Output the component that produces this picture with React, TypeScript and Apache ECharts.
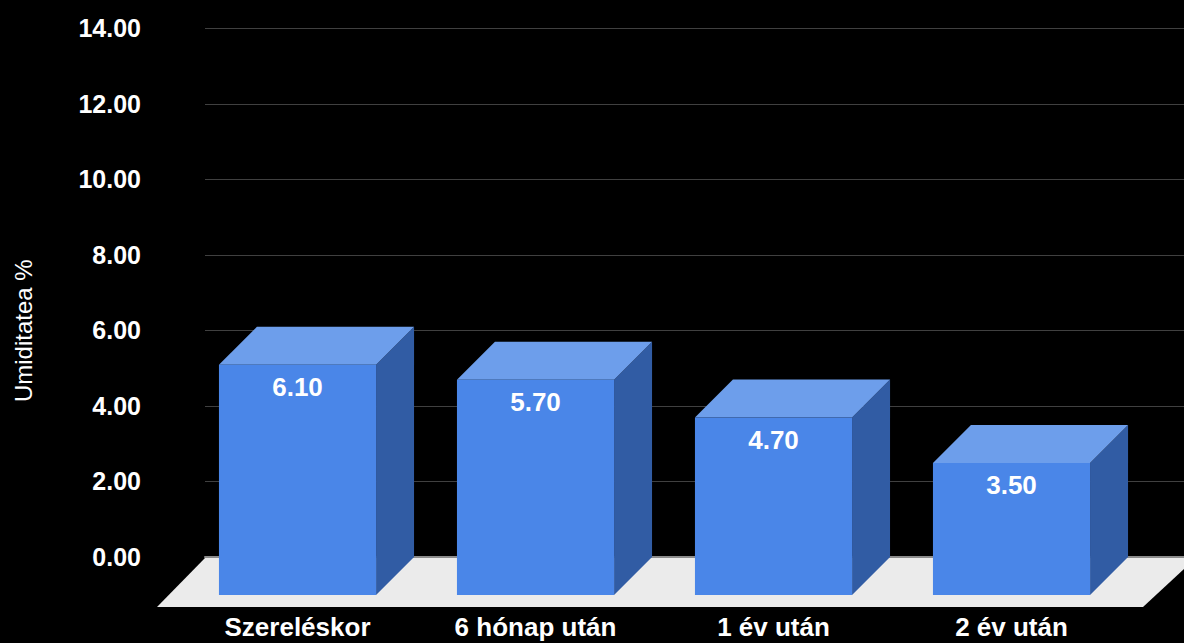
import React, { useEffect, useRef } from "react";
import * as echarts from "echarts";

const categories = ["Szereléskor", "6 hónap után", "1 év után", "2 év után"];
const values = [6.1, 5.7, 4.7, 3.5];
const yMin = 0;
const yMax = 14;
const yInterval = 2;
const yTitle = "Umiditatea %";

const FONT = "'Liberation Sans', Arial, Helvetica, sans-serif";

export default function App() {
  const ref = useRef<HTMLDivElement>(null);
  useEffect(() => {
    if (!ref.current) return;
    const chart = echarts.init(ref.current, null, { renderer: "svg" });
    const depthX = 38;
    const depthY = -38;
    chart.setOption({
      animation: false,
      backgroundColor: "#000000",
      grid: [
        { left: 205, right: 0, top: 28.3, height: 528.5 },
        { left: 178.5, width: 952, top: 66.5, height: 528.5 },
      ],
      graphic: [
        {
          type: "polygon",
          z: 1,
          shape: {
            points: [
              [205, 558],
              [1196, 558],
              [1143, 607],
              [157, 607],
            ],
          },
          style: { fill: "#ebebeb" },
        },
      ],
      xAxis: [
        {
          gridIndex: 0,
          type: "category",
          data: categories,
          axisLine: { show: true, lineStyle: { color: "#8c8c8c", width: 2 } },
          axisTick: { show: false },
          axisLabel: { show: false },
        },
        {
          gridIndex: 1,
          type: "category",
          data: categories,
          axisLine: { show: false },
          axisTick: { show: false },
          axisLabel: {
            color: "#ffffff",
            fontWeight: "bold",
            fontSize: 26,
            fontFamily: FONT,
            margin: 19,
          },
        },
      ],
      yAxis: [
        {
          gridIndex: 0,
          type: "value",
          min: yMin,
          max: yMax,
          interval: yInterval,
          axisLine: { show: false },
          axisTick: { show: false },
          axisLabel: {
            formatter: (v: number) => v.toFixed(2),
            color: "#ffffff",
            fontWeight: "bold",
            fontSize: 25,
            fontFamily: FONT,
            margin: 64,
          },
          splitLine: { lineStyle: { color: "#404040", width: 1 } },
        },
        {
          gridIndex: 1,
          type: "value",
          min: yMin,
          max: yMax,
          interval: yInterval,
          axisLine: { show: false },
          axisTick: { show: false },
          axisLabel: { show: false },
          splitLine: { show: false },
          name: yTitle,
          nameLocation: "middle",
          nameGap: 143,
          nameTextStyle: { color: "#ffffff", fontSize: 24, fontFamily: FONT },
        },
      ],
      series: [
        {
          type: "custom",
          xAxisIndex: 1,
          yAxisIndex: 1,
          z: 3,
          data: values.map((v, i) => [i, v]),
          renderItem: (params: any, api: any) => {
            const i = api.value(0);
            const v = api.value(1);
            const top = api.coord([i, v]);
            const base = api.coord([i, 0]);
            const band = api.size([1, 0])[0];
            const w = band * 0.66;
            const xl = top[0] - w / 2;
            const xr = top[0] + w / 2;
            const yt = top[1];
            const yb = base[1];
            return {
              type: "group",
              children: [
                {
                  type: "polygon",
                  shape: {
                    points: [
                      [xr, yt],
                      [xr + depthX, yt + depthY],
                      [xr + depthX, yb + depthY],
                      [xr, yb],
                    ],
                  },
                  style: { fill: "#315ca4" },
                },
                {
                  type: "polygon",
                  shape: {
                    points: [
                      [xl, yt],
                      [xr, yt],
                      [xr + depthX, yt + depthY],
                      [xl + depthX, yt + depthY],
                    ],
                  },
                  style: { fill: "#6d9eeb" },
                },
                {
                  type: "rect",
                  shape: { x: xl, y: yt, width: w, height: yb - yt },
                  style: { fill: "#4a86e8" },
                },
                {
                  type: "text",
                  x: top[0],
                  y: yt + 22,
                  style: {
                    text: Number(v).toFixed(2),
                    fill: "#ffffff",
                    fontSize: 26,
                    fontWeight: "bold",
                    fontFamily: FONT,
                    align: "center",
                    verticalAlign: "middle",
                  },
                },
              ],
            };
          },
        },
      ],
    });
    return () => chart.dispose();
  }, []);
  return (
    <div
      ref={ref}
      style={{
        position: "fixed",
        left: 0,
        top: 0,
        width: 1184,
        height: 643,
        background: "#000",
      }}
    />
  );
}
